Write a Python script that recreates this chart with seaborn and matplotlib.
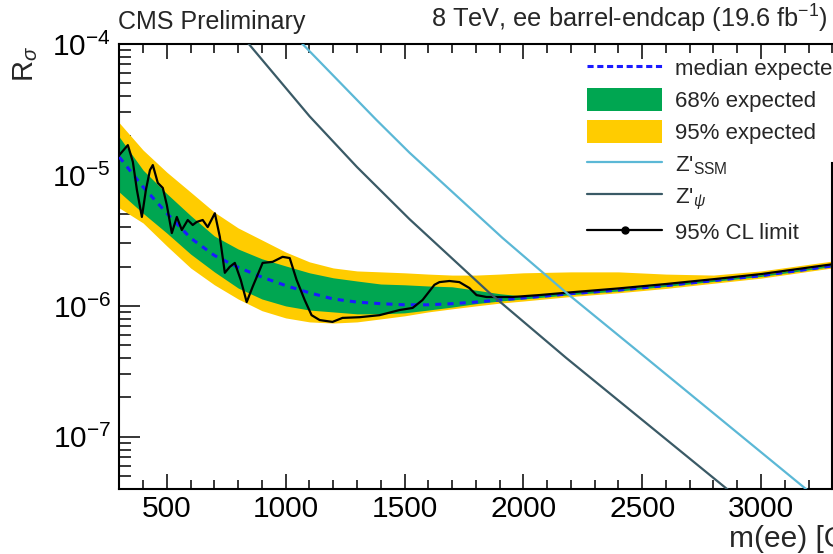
import numpy as np
import pandas as pd
import matplotlib
matplotlib.use("Agg")
import matplotlib.pyplot as plt
import seaborn as sns
from matplotlib.lines import Line2D
from matplotlib.patches import Patch
from matplotlib.ticker import MultipleLocator, LogLocator, NullFormatter

# ---------------- data ----------------
mass_exp = [300, 400, 500, 600, 700, 800, 900, 1000, 1100, 1200, 1300, 1400,
            1500, 1600, 1700, 1800, 1900, 2000, 2200, 2400, 2600, 2800, 3000, 3300]
median_exp = [1.37e-5, 8.1e-6, 5.1e-6, 3.3e-6, 2.43e-6, 1.97e-6, 1.66e-6, 1.43e-6,
              1.26e-6, 1.13e-6, 1.07e-6, 1.04e-6, 1.02e-6, 1.02e-6, 1.04e-6, 1.07e-6,
              1.11e-6, 1.15e-6, 1.24e-6, 1.32e-6, 1.43e-6, 1.56e-6, 1.70e-6, 2.02e-6]
band68_hi = [1.95e-5, 1.09e-5, 7.2e-6, 4.9e-6, 3.42e-6, 2.72e-6, 2.29e-6, 2.02e-6,
             1.79e-6, 1.64e-6, 1.55e-6, 1.47e-6, 1.45e-6, 1.42e-6, 1.40e-6, 1.32e-6,
             1.24e-6, 1.19e-6, 1.27e-6, 1.35e-6, 1.46e-6, 1.59e-6, 1.73e-6, 2.06e-6]
band68_lo = [7.4e-6, 5.1e-6, 3.6e-6, 2.49e-6, 1.82e-6, 1.37e-6, 1.13e-6, 1.0e-6,
             9.3e-7, 9.0e-7, 8.7e-7, 8.7e-7, 8.85e-7, 9.3e-7, 9.8e-7, 1.04e-6,
             1.09e-6, 1.13e-6, 1.22e-6, 1.30e-6, 1.41e-6, 1.54e-6, 1.68e-6, 2.0e-6]
band95_hi = [2.5e-5, 1.55e-5, 1.05e-5, 7.4e-6, 5.2e-6, 3.94e-6, 3.19e-6, 2.58e-6,
             2.17e-6, 1.95e-6, 1.85e-6, 1.82e-6, 1.79e-6, 1.75e-6, 1.72e-6, 1.72e-6,
             1.75e-6, 1.79e-6, 1.82e-6, 1.82e-6, 1.75e-6, 1.72e-6, 1.85e-6, 2.2e-6]
band95_lo = [5.6e-6, 4.3e-6, 2.87e-6, 1.95e-6, 1.45e-6, 1.13e-6, 9.2e-7, 8.1e-7,
             7.55e-7, 7.4e-7, 7.55e-7, 7.96e-7, 8.4e-7, 9.0e-7, 9.5e-7, 1.0e-6,
             1.05e-6, 1.09e-6, 1.18e-6, 1.26e-6, 1.36e-6, 1.49e-6, 1.63e-6, 1.95e-6]

mass_obs = [300, 336, 357, 374, 395, 412, 429, 441, 462, 483, 500, 521, 542, 563,
            588, 609, 626, 651, 672, 702, 723, 744, 765, 786, 811, 836, 861, 903,
            945, 987, 1017, 1046, 1080, 1109, 1143, 1197, 1239, 1311, 1395, 1479,
            1534, 1576, 1626, 1647, 1689, 1731, 1773, 1803, 1845, 1954, 2067, 2200,
            2400, 2600, 2800, 3000, 3300]
limit_obs = [1.42e-5, 1.69e-5, 1.26e-5, 7.7e-6, 4.78e-6, 7.7e-6, 1.09e-5, 1.19e-5,
             8.7e-6, 7.96e-6, 5.9e-6, 3.6e-6, 4.78e-6, 3.8e-6, 4.53e-6, 4.15e-6,
             4.38e-6, 4.53e-6, 4.0e-6, 5.1e-6, 3.37e-6, 1.79e-6, 1.99e-6, 2.13e-6,
             1.58e-6, 1.07e-6, 1.40e-6, 2.13e-6, 2.17e-6, 2.37e-6, 2.32e-6, 1.58e-6,
             1.11e-6, 8.5e-7, 7.8e-7, 7.55e-7, 8.1e-7, 8.2e-7, 8.5e-7, 9.3e-7,
             9.65e-7, 1.11e-6, 1.45e-6, 1.52e-6, 1.55e-6, 1.52e-6, 1.37e-6, 1.21e-6,
             1.17e-6, 1.17e-6, 1.21e-6, 1.27e-6, 1.36e-6, 1.47e-6, 1.60e-6, 1.75e-6,
             2.08e-6]

mass_ssm = [1020, 1071, 1382, 1521, 1912, 2181, 2517, 3189, 3300]
xsec_ssm = [1.24e-4, 1.0e-4, 2.63e-5, 1.48e-5, 3.31e-6, 1.26e-6, 4.0e-7, 4.0e-8, 2.8e-8]
mass_psi = [800, 845, 1101, 1300, 1521, 1857, 2181, 2857, 2950]
xsec_psi = [1.23e-4, 1.0e-4, 2.8e-5, 1.15e-5, 4.6e-6, 1.26e-6, 4.0e-7, 4.0e-8, 2.9e-8]

legend_labels = ["median expected", "68% expected", "95% expected",
                 "Z'$_{\\rm SSM}$", "Z'$_{\\psi}$", "95% CL limit"]

# ---------------- style ----------------
sns.set_style("ticks")
plt.rcParams["font.family"] = ["Liberation Sans", "DejaVu Sans"]
plt.rcParams["mathtext.fontset"] = "custom"
plt.rcParams["mathtext.rm"] = "Liberation Sans"
plt.rcParams["mathtext.it"] = "Liberation Sans:italic"
plt.rcParams["mathtext.bf"] = "Liberation Sans:bold"
plt.rcParams["mathtext.sf"] = "Liberation Sans"

W, H = 833, 554
fig = plt.figure(figsize=(W / 100, H / 100), dpi=100)
fig.patch.set_facecolor("white")
ax = fig.add_axes([119.3 / W, 1 - 489 / H, 713 / W, 445 / H])
ax.set_facecolor("white")
ax.set_yscale("log")

c_yellow = "#FFCC00"
c_green = "#00A651"
c_blue = "#1a1aff"
c_ssm = "#5BB8D6"
c_psi = "#3A5A66"

ax.fill_between(mass_exp, band95_lo, band95_hi, color=c_yellow, lw=0, zorder=1)
ax.fill_between(mass_exp, band68_lo, band68_hi, color=c_green, lw=0, zorder=2)

sns.lineplot(x=mass_exp, y=median_exp, ax=ax, color=c_blue, lw=2.2,
             linestyle=(0, (2, 2)), zorder=3, legend=False, estimator=None)
sns.lineplot(x=mass_obs, y=limit_obs, ax=ax, color="black", lw=1.6,
             zorder=4, legend=False, estimator=None)
sns.lineplot(x=mass_psi, y=xsec_psi, ax=ax, color=c_psi, lw=1.6,
             zorder=5, legend=False, estimator=None)
sns.lineplot(x=mass_ssm, y=xsec_ssm, ax=ax, color=c_ssm, lw=1.6,
             zorder=5, legend=False, estimator=None)

ax.set_xlim(300, 3300)
ax.set_ylim(4e-8, 1e-4)
ax.set_xlabel("")
ax.set_ylabel("")

ax.set_xticks(np.arange(500, 3001, 500))
ax.xaxis.set_minor_locator(MultipleLocator(100))
ax.yaxis.set_major_locator(LogLocator(base=10))
ax.yaxis.set_minor_locator(LogLocator(base=10, subs=np.arange(2, 10)))
ax.yaxis.set_minor_formatter(NullFormatter())

for s in ax.spines.values():
    s.set_linewidth(1.5)
    s.set_color("black")
    s.set_visible(True)
# right frame edge is hidden behind the legend box in its upper part
ax.spines["right"].set_bounds(4e-8, 1.24e-5)

ax.tick_params(axis="both", which="both", direction="in", top=True, right=False,
               width=1.1, colors="black", labelsize=21.5)
ax.tick_params(axis="x", which="major", length=11, pad=4)
ax.tick_params(axis="x", which="minor", length=6.5)
ax.tick_params(axis="y", which="major", length=15, pad=6)
ax.tick_params(axis="y", which="minor", length=8.5)

# legend
handles = [
    Line2D([], [], color=c_blue, lw=2.2, linestyle=(0, (2, 1.2))),
    Patch(facecolor=c_green, edgecolor="none"),
    Patch(facecolor=c_yellow, edgecolor="none"),
    Line2D([], [], color=c_ssm, lw=1.6),
    Line2D([], [], color=c_psi, lw=1.6),
    Line2D([], [], color="black", lw=1.6, marker="o", markersize=5),
]
leg = ax.legend(handles, legend_labels, loc="upper left",
                bbox_to_anchor=(587 / W, 1 - 56.5 / H),
                bbox_transform=fig.transFigure, frameon=False, fontsize=16,
                borderpad=0, borderaxespad=0, handlelength=3.38,
                handleheight=1.2, handletextpad=0.59, labelspacing=0.36)
leg.set_zorder(10)

# texts
fig.text(118 / W, 1 - 29 / H, "CMS Preliminary", fontsize=18,
         ha="left", va="baseline")
fig.text(828 / W, 1 - 28 / H, "8 TeV, ee barrel-endcap (19.6 fb$^{-1}$)",
         fontsize=18.3, ha="right", va="baseline")
fig.text(26 / W, 1 - 46 / H, "R$_{\\sigma}$", fontsize=21, rotation=90,
         ha="center", va="top")
fig.text(729 / W, 1 - 547 / H, "m(ee) [GeV]", fontsize=21.5,
         ha="left", va="baseline")

fig.savefig("out.png", dpi=100)
